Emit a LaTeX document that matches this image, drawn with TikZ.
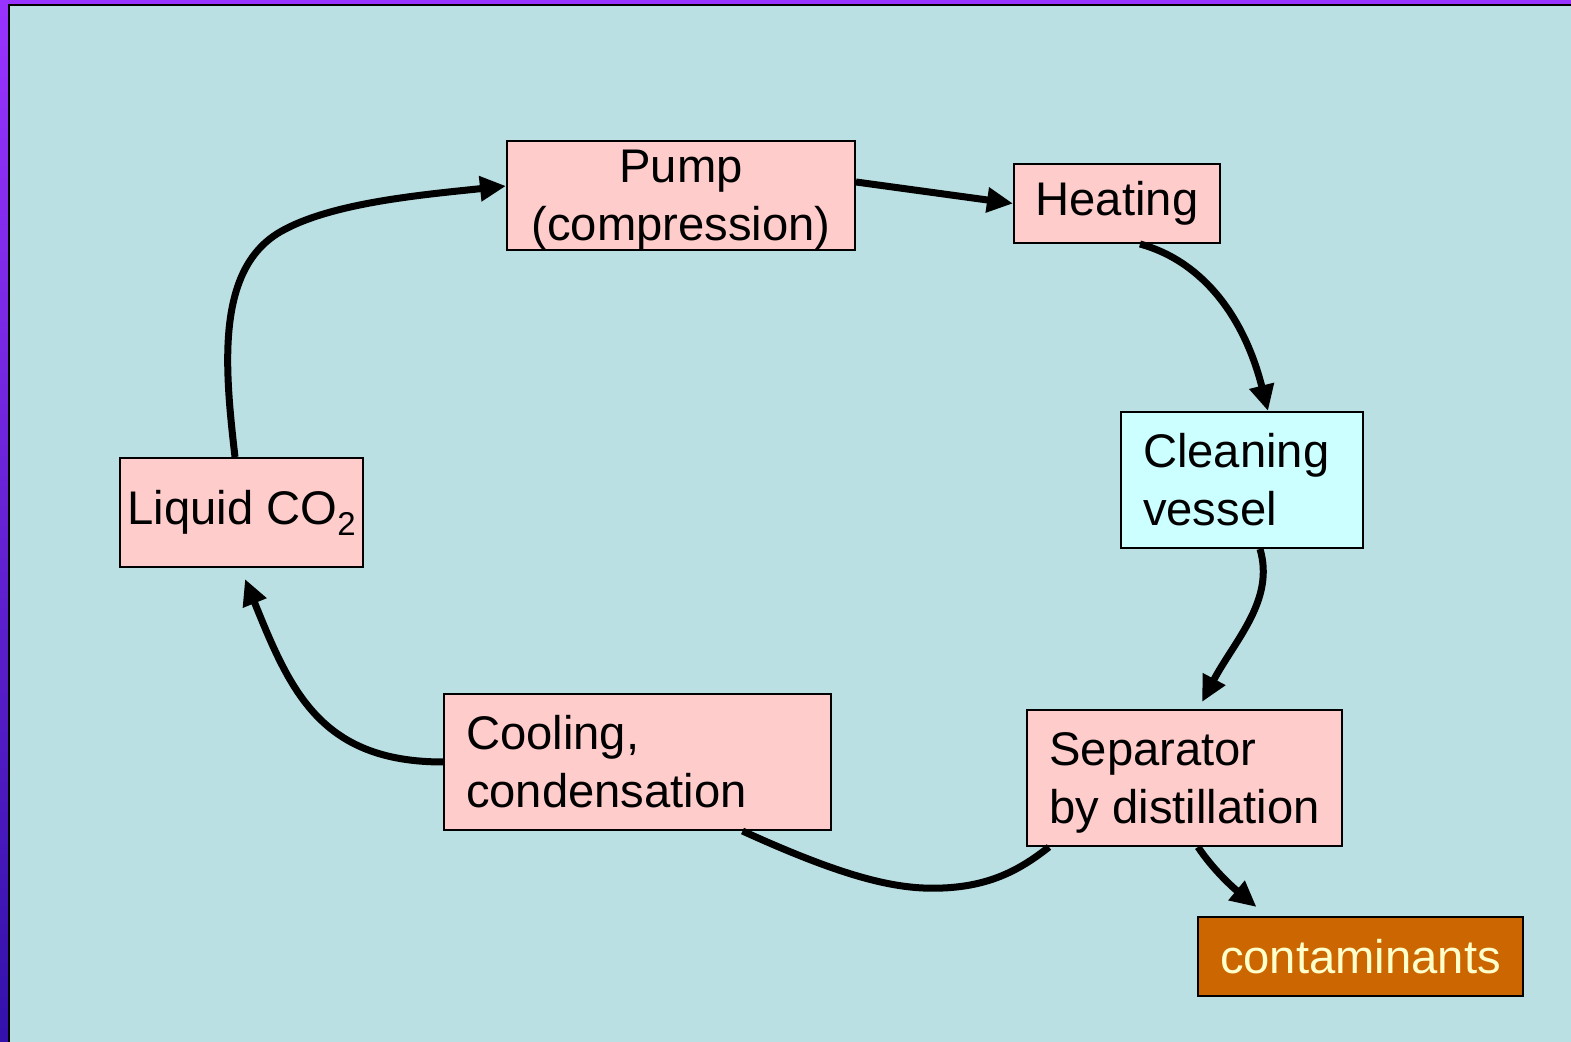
\documentclass[tikz,border=0pt]{standalone}
\usepackage{fontspec}
\setmainfont{Liberation Sans}
\usetikzlibrary{arrows.meta}
\definecolor{bgc}{HTML}{BAE0E3}
\definecolor{pinkc}{HTML}{FFCCCC}
\definecolor{cyanc}{HTML}{CCFFFF}
\definecolor{orangec}{HTML}{CC6600}
\definecolor{textyel}{HTML}{FFFFCC}
\definecolor{purtop}{HTML}{9933FF}
\definecolor{purbot}{HTML}{3311AA}
\begin{document}
\begin{tikzpicture}[x=0.5pt,y=-0.5pt,
  box/.style={draw=black, line width=1pt, fill=pinkc, inner sep=0pt, font=\fontsize{23.6}{29}\selectfont},
  cbox/.style={box, align=center},
  lbox/.style={box, align=left, inner xsep=11pt},
  flow/.style={line width=3.5pt, draw=black},
  arr/.style={flow, -{Triangle[length=13pt,width=12pt]}}
]
\useasboundingbox (0,0) rectangle (1571,1042);
% frame and background
\fill[bgc] (9,5) rectangle (1571,1042);
\fill[purtop] (0,0) rectangle (1571,4);
\shade[top color=purtop, bottom color=purbot] (0,0) rectangle (8,1042);
\draw[line width=1pt] (9,1042) -- (9,5) -- (1571,5);

% nodes
\node[cbox, text depth=0pt, minimum width=174pt, minimum height=54.5pt] (pump) at (681,195.5) {Pump\\(compression)};
\node[cbox, minimum width=103pt, minimum height=39.5pt] (heating) at (1117,203.5) {Heating};
\node[lbox, fill=cyanc, text width=99pt, minimum height=68pt] (cleaning) at (1242,480) {Cleaning\\vessel};
\node[cbox, minimum width=121.5pt, minimum height=54.5pt] (liquid) at (241.5,512.5) {Liquid CO{\fontsize{16.5}{16.5}\selectfont\raisebox{-5.5pt}{2}}};
\node[lbox, text width=171.5pt, minimum height=68pt] (cooling) at (637.5,762) {Cooling,\\condensation};
\node[box, align=left, text depth=0pt, minimum width=157.5pt, minimum height=68pt] (separator) at (1184.5,778) {Separator\\by distillation};
\node[cbox, fill=orangec, text=textyel, minimum width=162.5pt, minimum height=39.5pt] (contam) at (1360.5,956.5) {contaminants};

% connectors
\draw[arr] ([xshift=-3.25pt]liquid.north) .. controls (225,370) and (215,270) .. (280,232)
  .. controls (330,203) and (420,195) .. ([yshift=4.75pt]pump.west);
\draw[arr] ([yshift=6.75pt]pump.east) -- (heating.west);
\draw[arr] ([xshift=11.5pt]heating.south) .. controls (1205,262) and (1245,320) .. ([xshift=13pt]cleaning.north);
\draw[arr] ([xshift=9pt]cleaning.south) .. controls (1275,600) and (1235,640) .. ([xshift=8.75pt,yshift=3.5pt]separator.north);
\draw[flow] ([xshift=52.5pt]cooling.south) .. controls (850,880) and (900,890) .. (943,888)
  .. controls (990,886) and (1020,870) .. ([xshift=11.5pt]separator.south west);
\draw[arr] (cooling.west) .. controls (320,762) and (290,690) .. ([xshift=1.75pt,yshift=-5.5pt]liquid.south);
\draw[arr] ([xshift=6.75pt]separator.south) .. controls (1212,868) and (1230,885) .. ([xshift=-52pt,yshift=4.5pt]contam.north);
\end{tikzpicture}
\end{document}
